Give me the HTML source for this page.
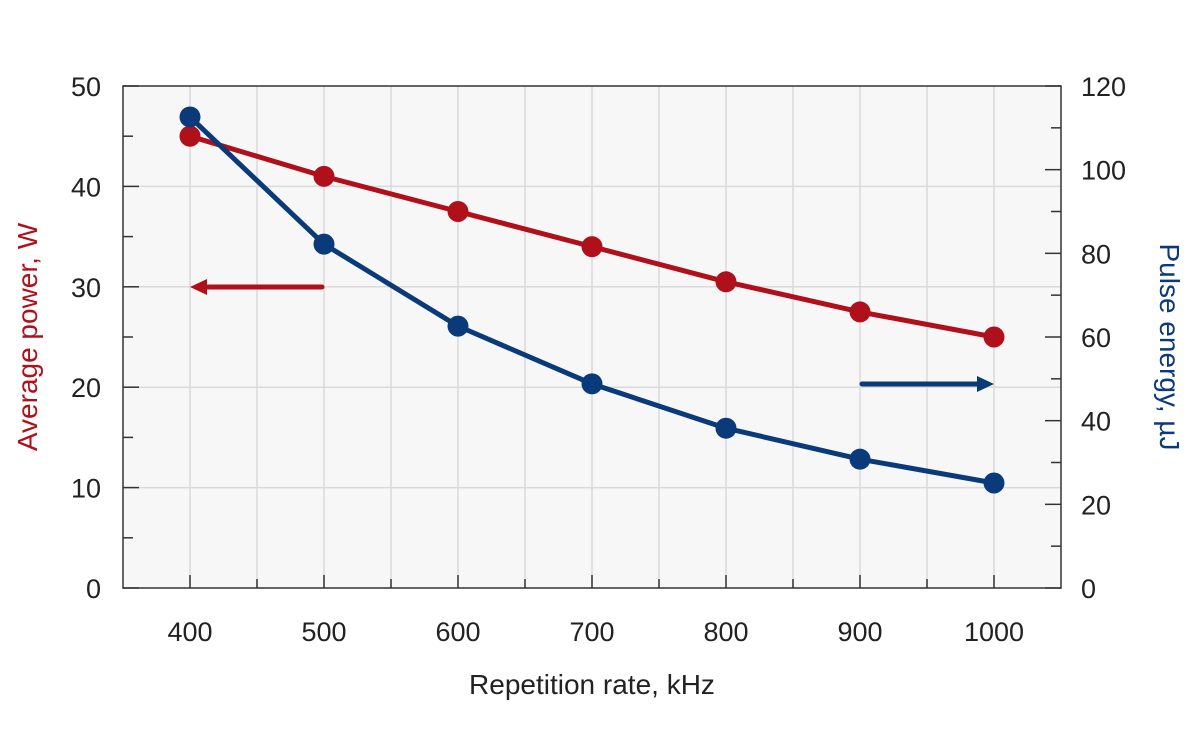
<!DOCTYPE html>
<html><head><meta charset="utf-8"><style>
html,body{margin:0;padding:0;background:#fff;}
svg{display:block;font-family:"Liberation Sans",sans-serif;}
</style></head><body>
<svg id="chart" width="1200" height="750" viewBox="0 0 1200 750">
<rect x="123" y="86" width="938" height="502" fill="#f7f7f7"/>
<g id="grid"></g>
<g id="axes"></g>
<g id="series"></g>
<text x="592" y="694" font-size="28" text-anchor="middle" fill="#222">Repetition rate, kHz</text>
<text transform="translate(37,337) rotate(-90)" font-size="28" text-anchor="middle" fill="#b0101a">Average power, W</text>
<text transform="translate(1160,347) rotate(90)" font-size="28" text-anchor="middle" fill="#0a3a7a">Pulse energy, µJ</text>
<g>
<line x1="322" y1="287" x2="204" y2="287" stroke="#b0101a" stroke-width="5" stroke-linecap="round"/>
<polygon points="190,287 207,279 207,295" fill="#b0101a"/>
</g>
<g>
<line x1="862" y1="384" x2="980" y2="384" stroke="#0a3a7a" stroke-width="5" stroke-linecap="round"/>
<polygon points="994,384 977,376 977,392" fill="#0a3a7a"/>
</g>
</svg>
<script>
const categories=[400,500,600,700,800,900,1000];
const powerValues=[45,41,37.5,34,30.5,27.5,25];
const energyValues=[112.6,82.2,62.6,48.8,38.2,30.8,25.1];
const xTickLabels=[400,500,600,700,800,900,1000];
const leftTickLabels=[0,10,20,30,40,50];
const rightTickLabels=[0,20,40,60,80,100,120];
const NS="http://www.w3.org/2000/svg";
const L=123,R=1061,T=86,B=588;
const x=v=>L+(v-350)/700*(R-L);
const yL=v=>B-v/50*(B-T);
const yR=v=>B-v/120*(B-T);
function mk(parent,tag,attrs){const e=document.createElementNS(NS,tag);for(const k in attrs)e.setAttribute(k,attrs[k]);document.getElementById(parent).appendChild(e);return e;}
for(let v=400;v<=1000;v+=50){const e=mk('grid','line',{x1:x(v),x2:x(v),y1:T,y2:B,stroke:'#dadada','stroke-width':1.5});

}
for(let v=10;v<50;v+=10){const e=mk('grid','line',{x1:L,x2:R,y1:yL(v),y2:yL(v),stroke:'#dadada','stroke-width':1.5});

}
const fr=mk('axes','rect',{x:L,y:T,width:R-L,height:B-T,fill:'none',stroke:'#333','stroke-width':1.5});


for(let v=400;v<=1000;v+=50){const len=v%100===0?13:9;const e=mk('axes','line',{x1:x(v),x2:x(v),y1:B,y2:B-len,stroke:'#333','stroke-width':1.5});

}
xTickLabels.forEach(v=>{const t=mk('axes','text',{x:x(v),y:641,'font-size':27,'text-anchor':'middle',fill:'#222'});t.textContent=v;

});
for(let v=0;v<=50;v+=5){const len=v%10===0?16:10;const e=mk('axes','line',{x1:L,x2:L+len,y1:yL(v),y2:yL(v),stroke:'#333','stroke-width':1.5});

}
leftTickLabels.forEach(v=>{const t=mk('axes','text',{x:101,y:yL(v)+10,'font-size':27,'text-anchor':'end',fill:'#222'});t.textContent=v;

});
for(let v=0;v<=120;v+=10){const len=v%20===0?16:10;const e=mk('axes','line',{x1:R,x2:R-len,y1:yR(v),y2:yR(v),stroke:'#333','stroke-width':1.5});

}
rightTickLabels.forEach(v=>{const t=mk('axes','text',{x:1081,y:yR(v)+10,'font-size':27,'text-anchor':'start',fill:'#222'});t.textContent=v;

});
function series(vals,yf,color,name){
 const p=mk('series','polyline',{points:vals.map((v,i)=>x(categories[i])+','+yf(v)).join(' '),fill:'none',stroke:color,'stroke-width':5,'stroke-linejoin':'round'});
 
 
 vals.forEach((v,i)=>{const c=mk('series','circle',{cx:x(categories[i]),cy:yf(v),r:10.5,fill:color});
 
 });
}
series(powerValues,yL,'#b0101a','power');
series(energyValues,yR,'#0a3a7a','energy');
</script>
</body></html>
